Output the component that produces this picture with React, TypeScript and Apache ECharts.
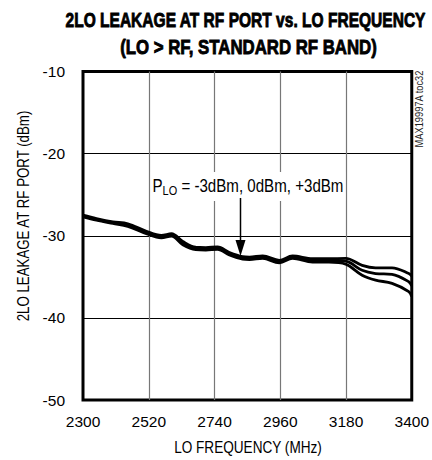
import React, { useEffect, useRef } from "react";
import * as echarts from "echarts";

const freqMHz = [2300, 2345, 2400, 2450, 2512, 2562, 2596, 2634, 2677, 2711, 2750, 2790, 2834, 2857, 2901, 2957, 3001, 3068, 3123, 3179, 3234, 3279, 3334, 3390, 3400];
const leakPlus3 = [-27.5, -27.9, -28.3, -28.55, -29.45, -29.95, -29.75, -30.7, -31.4, -31.45, -31.35, -32.05, -32.55, -32.6, -32.45, -33.0, -32.45, -32.8, -32.8, -32.75, -33.6, -33.9, -33.9, -34.6, -34.9];
const leakZero = [-27.6, -28.0, -28.4, -28.7, -29.6, -30.1, -29.9, -30.9, -31.55, -31.6, -31.5, -32.2, -32.7, -32.75, -32.6, -33.15, -32.6, -33.0, -33.0, -33.1, -34.2, -34.6, -34.7, -35.6, -36.1];
const leakMinus3 = [-27.7, -28.1, -28.5, -28.85, -29.75, -30.25, -30.05, -31.1, -31.7, -31.75, -31.65, -32.35, -32.85, -32.9, -32.75, -33.3, -32.75, -33.2, -33.2, -33.45, -34.8, -35.4, -35.8, -36.8, -37.4];
const seriesNames = ["PLO = +3dBm", "PLO = 0dBm", "PLO = -3dBm"];
const xTicks = [2300, 2520, 2740, 2960, 3180, 3400];
const yTicks = [-50, -40, -30, -20, -10];

const X0 = xTicks[0];
const SANS = "'Liberation Sans', Arial, Helvetica, sans-serif";

export default function App() {
  const ref = useRef<HTMLDivElement>(null);
  useEffect(() => {
    if (!ref.current) return;
    const chart = echarts.init(ref.current, undefined, { renderer: "svg" });
    const mk = (vals: number[]) => freqMHz.map((f, i) => [f - X0, vals[i]]);
    const allSeries = [leakPlus3, leakZero, leakMinus3].map((vals, i) => ({
      name: seriesNames[i],
      type: "line",
      data: mk(vals),
      showSymbol: false,
      smooth: 0.35,
      lineStyle: { color: "#000", width: 2.8 },
      z: 5,
    }));
    chart.setOption({
      animation: false,
      backgroundColor: "#fff",
      grid: {
        left: 83,
        right: 19,
        top: 71.5,
        bottom: 60,
        show: true,
        borderColor: "#000",
        borderWidth: 3,
        backgroundColor: "transparent",
      },
      xAxis: {
        type: "value",
        min: 0,
        max: xTicks[xTicks.length - 1] - X0,
        interval: 220,
        axisLine: { show: false },
        axisTick: { show: false },
        axisLabel: {
          color: "#000",
          fontSize: 15.5,
          fontFamily: SANS,
          margin: 13,
          formatter: (v: number) => String(v + X0),
        },
        splitLine: { show: true, showMinLine: false, showMaxLine: false, lineStyle: { color: "#777", width: 1.2 } },
      },
      yAxis: {
        type: "value",
        min: yTicks[0],
        max: yTicks[yTicks.length - 1],
        interval: 10,
        axisLine: { show: false },
        axisTick: { show: false },
        axisLabel: { color: "#000", fontSize: 15.5, fontFamily: SANS, margin: 18 },
        splitLine: { show: true, showMinLine: false, showMaxLine: false, lineStyle: { color: "#000", width: 1 } },
      },
      series: allSeries,
      graphic: [
        {
          type: "text",
          x: 245.5,
          y: 19.5,
          scaleX: 0.74,
          style: {
            text: "2LO LEAKAGE AT RF PORT vs. LO FREQUENCY",
            fontFamily: SANS,
            fontWeight: "bold",
            fontSize: 21,
            fill: "#000",
            stroke: "#000",
            lineWidth: 0.9,
            align: "center",
            verticalAlign: "middle",
          },
        },
        {
          type: "text",
          x: 248.5,
          y: 47,
          scaleX: 0.8,
          style: {
            text: "(LO > RF, STANDARD RF BAND)",
            fontFamily: SANS,
            fontWeight: "bold",
            fontSize: 21,
            fill: "#000",
            stroke: "#000",
            lineWidth: 0.9,
            align: "center",
            verticalAlign: "middle",
          },
        },
        {
          type: "text",
          x: 24,
          y: 216,
          rotation: Math.PI / 2,
          scaleX: 0.83,
          style: {
            text: "2LO LEAKAGE AT RF PORT (dBm)",
            fontFamily: SANS,
            fontSize: 16,
            fill: "#000",
            align: "center",
            verticalAlign: "middle",
          },
        },
        {
          type: "text",
          x: 248,
          y: 448,
          scaleX: 0.85,
          style: {
            text: "LO FREQUENCY (MHz)",
            fontFamily: SANS,
            fontSize: 16,
            fill: "#000",
            align: "center",
            verticalAlign: "middle",
          },
        },
        {
          type: "text",
          x: 419,
          y: 109,
          rotation: Math.PI / 2,
          scaleX: 0.93,
          style: {
            text: "MAX19997A toc32",
            fontFamily: SANS,
            fontSize: 10,
            fill: "#222",
            align: "center",
            verticalAlign: "middle",
          },
        },
        {
          type: "text",
          x: 248,
          y: 186.5,
          z: 10,
          scaleX: 0.84,
          style: {
            text: "P{s|LO} = -3dBm, 0dBm, +3dBm",
            fontFamily: SANS,
            fontSize: 18,
            fill: "#000",
            align: "center",
            verticalAlign: "middle",
            backgroundColor: "#fff",
            padding: [4, 2, 4, 2],
            rich: { s: { fontFamily: SANS, fontSize: 13, padding: [8, 0, 0, 0] } },
          },
        },
        {
          type: "line",
          z: 10,
          shape: { x1: 240.5, y1: 198, x2: 240.5, y2: 244 },
          style: { stroke: "#000", lineWidth: 1.5 },
        },
        {
          type: "polygon",
          z: 10,
          shape: { points: [[235.5, 240], [245.5, 240], [240.5, 256]] },
          style: { fill: "#000" },
        },
      ],
    });
    return () => chart.dispose();
  }, []);
  return <div ref={ref} style={{ width: 432, height: 460, position: "absolute", left: 0, top: 0 }} />;
}
